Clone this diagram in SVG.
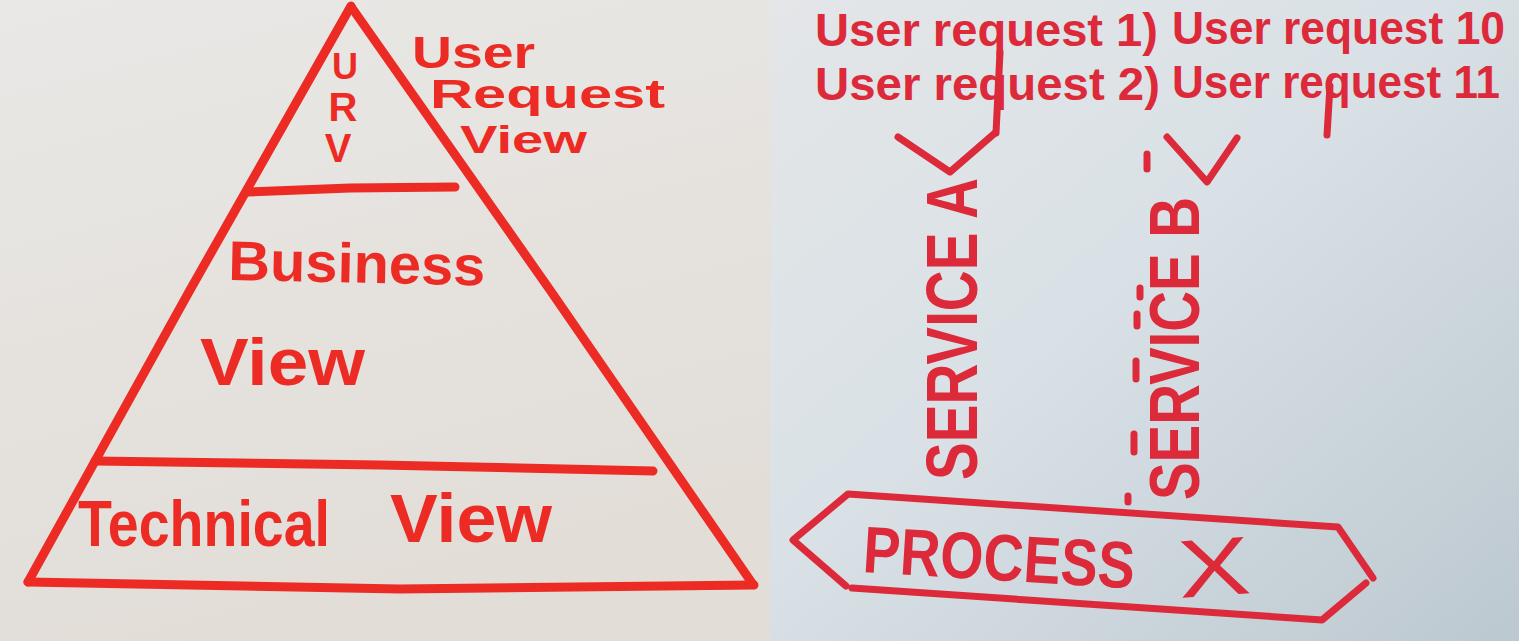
<svg xmlns="http://www.w3.org/2000/svg" width="1519" height="641" viewBox="0 0 1519 641">
<defs>
<linearGradient id="bgL" x1="0" y1="0" x2="0.3" y2="1">
<stop offset="0" stop-color="#e9e8e6"/>
<stop offset="1" stop-color="#e2ddd7"/>
</linearGradient>
<linearGradient id="bgR" x1="0" y1="0" x2="1" y2="1">
<stop offset="0" stop-color="#e4e6e8"/>
<stop offset="0.45" stop-color="#d9e1e6"/>
<stop offset="1" stop-color="#bcc8d0"/>
</linearGradient>
<style>
.inkL{fill:none;stroke:#ec2c24;stroke-width:9;stroke-linecap:round;stroke-linejoin:round}
.inkR{fill:none;stroke:#dc2a3a;stroke-width:7;stroke-linecap:round;stroke-linejoin:round}
.tL{font-family:"Liberation Sans",Arial,sans-serif;font-weight:700;fill:#ec2c24}
.tR{font-family:"Liberation Sans",Arial,sans-serif;font-weight:700;fill:#dc2a3a}
.thin{font-weight:400}
</style>
</defs>
<rect x="0" y="0" width="770" height="641" fill="url(#bgL)"/>
<rect x="770" y="0" width="749" height="641" fill="url(#bgR)"/>

<g id="pyramid">
<path class="inkL" d="M351,6 L190,290 L28,582"/>
<path class="inkL" d="M352,8 L550,290 L752,583"/>
<path class="inkL" d="M28,582 L400,589 L754,585"/>
</g>

<g id="urv-layer">
<path class="inkL" d="M248,192 L350,188 L455,187"/>
<text class="tL" x="345" y="79" font-size="36" text-anchor="middle">U</text>
<text class="tL" x="343" y="121" font-size="40" text-anchor="middle">R</text>
<text class="tL" x="338" y="162" font-size="40" text-anchor="middle">V</text>
<text class="tL" x="412" y="68" font-size="44" textLength="123" lengthAdjust="spacingAndGlyphs">User</text>
<text class="tL" x="430" y="108" font-size="40" textLength="235" lengthAdjust="spacingAndGlyphs">Request</text>
<text class="tL" x="460" y="153" font-size="38" textLength="127" lengthAdjust="spacingAndGlyphs">View</text>
</g>

<g id="business-layer">
<path class="inkL" d="M95,461 L380,465 L653,471"/>
<text class="tL" x="228" y="280" font-size="56" textLength="257" lengthAdjust="spacingAndGlyphs" transform="rotate(1.2 228 280)">Business</text>
<text class="tL" x="200" y="385" font-size="66" textLength="165" lengthAdjust="spacingAndGlyphs">View</text>
</g>

<g id="technical-layer">
<text class="tL" x="78" y="546" font-size="64" textLength="252" lengthAdjust="spacingAndGlyphs">Technical</text>
<text class="tL" x="390" y="542" font-size="68" textLength="162" lengthAdjust="spacingAndGlyphs">View</text>
</g>

<g id="user-requests">
<text class="tR" x="815" y="46" font-size="46" textLength="343" lengthAdjust="spacingAndGlyphs">User request 1)</text>
<text class="tR" x="1172" y="44" font-size="46" textLength="333" lengthAdjust="spacingAndGlyphs">User request 10</text>
<text class="tR" x="815" y="100" font-size="46" textLength="345" lengthAdjust="spacingAndGlyphs">User request 2)</text>
<text class="tR" x="1172" y="98" font-size="46" textLength="328" lengthAdjust="spacingAndGlyphs">User request 11</text>
</g>

<g id="service-a">
<text class="tR" font-size="72" textLength="302" lengthAdjust="spacingAndGlyphs" transform="translate(977 480) rotate(-90)">SERVICE A</text>
</g>

<g id="service-b">
<text class="tR" font-size="70" textLength="303" lengthAdjust="spacingAndGlyphs" transform="translate(1199 500) rotate(-90)">SERVICE B</text>
<path class="inkR" stroke-width="5" d="M1128,496 L1128,502 M1134,434 L1134,452 M1136,361 L1136,379 M1137,314 L1137,326 M1140,288 L1140,297 M1147,154 L1147,169"/>
</g>

<g id="process">
<path class="inkR" d="M846,586 L793,540 L848,494 L1338,527 L1373,578 M1366,583 L1322,620 L852,588"/>
<text class="tR" x="862" y="572" font-size="66" textLength="272" lengthAdjust="spacingAndGlyphs" transform="rotate(3.5 862 572)">PROCESS</text>
<text class="tR thin" x="1180" y="598" font-size="82" textLength="72" lengthAdjust="spacingAndGlyphs" transform="rotate(-4 1180 598)">X</text>
</g>

<g id="connectors">
<path class="inkR" d="M1000,52 L996,133"/>
<path class="inkR" d="M898,137 L950,172 L995,133"/>
<path class="inkR" d="M1330,86 L1327,135"/>
<path class="inkR" d="M1167,137 L1207,182 L1237,138"/>
</g>
</svg>
